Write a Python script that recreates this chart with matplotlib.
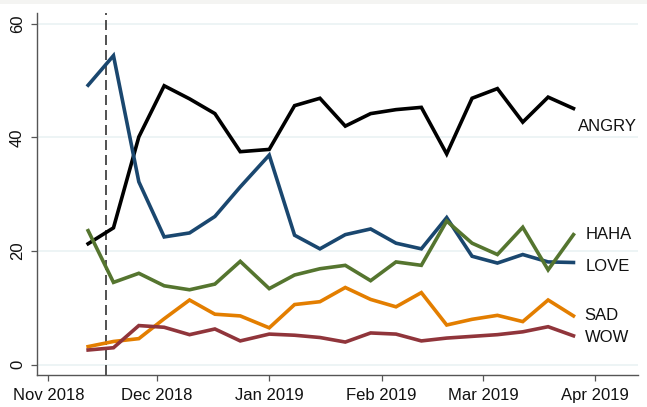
import matplotlib
matplotlib.use("Agg")
import matplotlib.pyplot as plt
import matplotlib.dates as mdates
from matplotlib.patches import Rectangle
import pandas as pd

# weekly dates (Stata-style weeks)
dates = pd.to_datetime([
    "2018-11-12", "2018-11-19", "2018-11-26", "2018-12-03", "2018-12-10",
    "2018-12-17", "2018-12-24", "2019-01-01", "2019-01-08", "2019-01-15",
    "2019-01-22", "2019-01-29", "2019-02-05", "2019-02-12", "2019-02-19",
    "2019-02-26", "2019-03-05", "2019-03-12", "2019-03-19", "2019-03-26",
])

angry = [21.3, 24.1, 40.1, 49.1, 46.8, 44.2, 37.5, 37.9, 45.6, 46.9,
         42.0, 44.2, 44.9, 45.3, 37.1, 46.9, 48.6, 42.7, 47.1, 45.1]
love = [49.2, 54.4, 32.2, 22.5, 23.2, 26.1, 31.3, 36.9, 22.8, 20.4,
        22.9, 23.9, 21.4, 20.4, 25.9, 19.1, 17.9, 19.4, 18.1, 18.0]
haha = [23.6, 14.5, 16.1, 13.9, 13.2, 14.2, 18.2, 13.4, 15.8, 16.9,
        17.5, 14.8, 18.1, 17.5, 25.3, 21.4, 19.4, 24.2, 16.7, 22.9]
sad = [3.2, 4.1, 4.6, 8.1, 11.4, 8.9, 8.6, 6.5, 10.6, 11.1,
       13.6, 11.5, 10.2, 12.7, 7.0, 8.0, 8.7, 7.6, 11.4, 8.6]
wow = [2.6, 3.0, 6.9, 6.6, 5.3, 6.3, 4.2, 5.4, 5.2, 4.8,
       4.0, 5.6, 5.4, 4.2, 4.7, 5.0, 5.3, 5.8, 6.7, 5.1]

event_date = pd.Timestamp("2018-11-17")
xtick_dates = pd.to_datetime(["2018-11-01", "2018-12-01", "2019-01-01",
                              "2019-02-01", "2019-03-01", "2019-04-01"])
xtick_labels = ["Nov 2018", "Dec 2018", "Jan 2019", "Feb 2019", "Mar 2019", "Apr 2019"]
yticks = [0, 20, 40, 60]

series = [
    ("ANGRY", angry, "#000000", (3, -13)),
    ("LOVE", love, "#1a476f", (9, -3)),
    ("HAHA", haha, "#55752f", (9, 0)),
    ("SAD", sad, "#e37e00", (8, 0)),
    ("WOW", wow, "#90353b", (8, -1)),
]

plt.rcParams["font.family"] = ["Liberation Sans", "DejaVu Sans"]

fig = plt.figure(figsize=(6.47, 4.07), dpi=100)
fig.patch.set_facecolor("white")
fig.patches.append(Rectangle((0, 1 - 4 / 407), 1, 4 / 407, transform=fig.transFigure,
                             facecolor="#f4f4f2", edgecolor="none"))
ax = fig.add_axes([0.0567, 0.0786, 0.9293, 0.8894])

for y in yticks:
    ax.axhline(y, color="#eaf2f3", lw=1.2, zorder=0)

ax.axvline(event_date, color="#333333", lw=1.2, ls=(0, (6, 3)), zorder=1)

for name, vals, color, off in series:
    ax.plot(dates, vals, color=color, lw=2.6, solid_joinstyle="miter", zorder=2)
    ax.annotate(name, xy=(dates[-1], vals[-1]), xytext=off, textcoords="offset points",
                fontsize=12, va="center", ha="left", color="#111111")

x0 = mdates.date2num(pd.Timestamp("2018-11-01"))
ax.set_xlim(x0 - 3.2, x0 + 162.8)
ax.set_ylim(-1.8, 61.9)

ax.set_xticks(xtick_dates)
ax.set_xticklabels(xtick_labels)
ax.set_yticks(yticks)
ax.set_yticklabels([str(v) for v in yticks], rotation=90, va="center")
ax.tick_params(axis="both", labelsize=12, length=4.5, width=0.9, color="#555555",
               labelcolor="#111111")
ax.tick_params(axis="x", pad=5)
ax.tick_params(axis="y", pad=4)

for s in ["top", "right"]:
    ax.spines[s].set_visible(False)
for s in ["left", "bottom"]:
    ax.spines[s].set_color("#555555")
    ax.spines[s].set_linewidth(1.0)

fig.savefig("out.png", dpi=100)
